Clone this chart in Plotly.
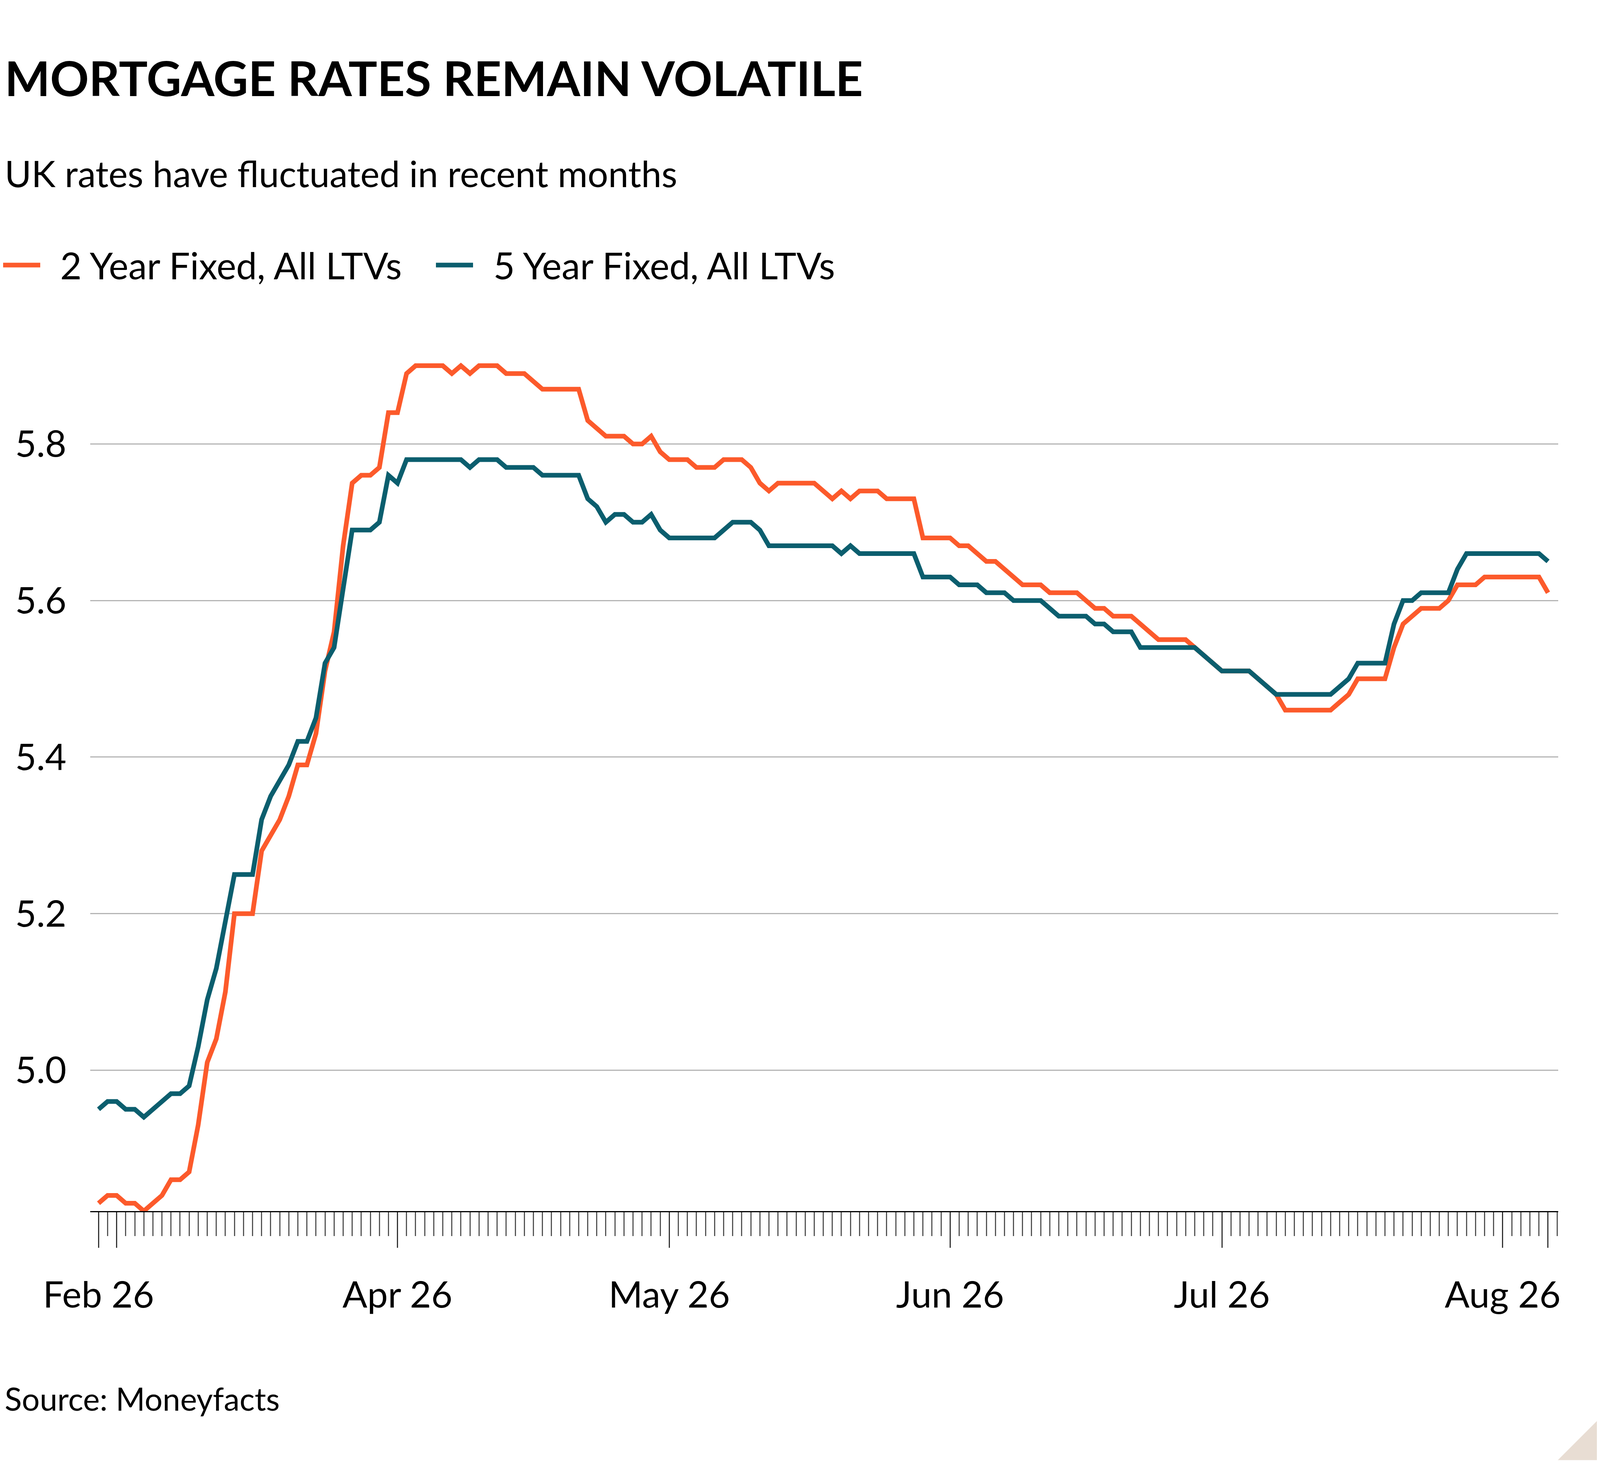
import pandas as pd
import plotly.graph_objects as go

# daily rates, 27 Feb 2026 - 6 Aug 2026
dates = pd.date_range("2026-02-27", "2026-08-06", freq="D")

two_year = [
    4.83, 4.84, 4.84, 4.83, 4.83, 4.82, 4.83, 4.84, 4.86, 4.86,
    4.87, 4.93, 5.01, 5.04, 5.10, 5.20, 5.20, 5.20, 5.28, 5.30,
    5.32, 5.35, 5.39, 5.39, 5.43, 5.51, 5.56, 5.67, 5.75, 5.76,
    5.76, 5.77, 5.84, 5.84, 5.89, 5.90, 5.90, 5.90, 5.90, 5.89,
    5.90, 5.89, 5.90, 5.90, 5.90, 5.89, 5.89, 5.89, 5.88, 5.87,
    5.87, 5.87, 5.87, 5.87, 5.83, 5.82, 5.81, 5.81, 5.81, 5.80,
    5.80, 5.81, 5.79, 5.78, 5.78, 5.78, 5.77, 5.77, 5.77, 5.78,
    5.78, 5.78, 5.77, 5.75, 5.74, 5.75, 5.75, 5.75, 5.75, 5.75,
    5.74, 5.73, 5.74, 5.73, 5.74, 5.74, 5.74, 5.73, 5.73, 5.73,
    5.73, 5.68, 5.68, 5.68, 5.68, 5.67, 5.67, 5.66, 5.65, 5.65,
    5.64, 5.63, 5.62, 5.62, 5.62, 5.61, 5.61, 5.61, 5.61, 5.60,
    5.59, 5.59, 5.58, 5.58, 5.58, 5.57, 5.56, 5.55, 5.55, 5.55,
    5.55, 5.54, 5.53, 5.52, 5.51, 5.51, 5.51, 5.51, 5.50, 5.49,
    5.48, 5.46, 5.46, 5.46, 5.46, 5.46, 5.46, 5.47, 5.48, 5.50,
    5.50, 5.50, 5.50, 5.54, 5.57, 5.58, 5.59, 5.59, 5.59, 5.60,
    5.62, 5.62, 5.62, 5.63, 5.63, 5.63, 5.63, 5.63, 5.63, 5.63,
    5.61,
]

five_year = [
    4.95, 4.96, 4.96, 4.95, 4.95, 4.94, 4.95, 4.96, 4.97, 4.97,
    4.98, 5.03, 5.09, 5.13, 5.19, 5.25, 5.25, 5.25, 5.32, 5.35,
    5.37, 5.39, 5.42, 5.42, 5.45, 5.52, 5.54, 5.62, 5.69, 5.69,
    5.69, 5.70, 5.76, 5.75, 5.78, 5.78, 5.78, 5.78, 5.78, 5.78,
    5.78, 5.77, 5.78, 5.78, 5.78, 5.77, 5.77, 5.77, 5.77, 5.76,
    5.76, 5.76, 5.76, 5.76, 5.73, 5.72, 5.70, 5.71, 5.71, 5.70,
    5.70, 5.71, 5.69, 5.68, 5.68, 5.68, 5.68, 5.68, 5.68, 5.69,
    5.70, 5.70, 5.70, 5.69, 5.67, 5.67, 5.67, 5.67, 5.67, 5.67,
    5.67, 5.67, 5.66, 5.67, 5.66, 5.66, 5.66, 5.66, 5.66, 5.66,
    5.66, 5.63, 5.63, 5.63, 5.63, 5.62, 5.62, 5.62, 5.61, 5.61,
    5.61, 5.60, 5.60, 5.60, 5.60, 5.59, 5.58, 5.58, 5.58, 5.58,
    5.57, 5.57, 5.56, 5.56, 5.56, 5.54, 5.54, 5.54, 5.54, 5.54,
    5.54, 5.54, 5.53, 5.52, 5.51, 5.51, 5.51, 5.51, 5.50, 5.49,
    5.48, 5.48, 5.48, 5.48, 5.48, 5.48, 5.48, 5.49, 5.50, 5.52,
    5.52, 5.52, 5.52, 5.57, 5.60, 5.60, 5.61, 5.61, 5.61, 5.61,
    5.64, 5.66, 5.66, 5.66, 5.66, 5.66, 5.66, 5.66, 5.66, 5.66,
    5.65,
]

series_names = ["2 Year Fixed, All LTVs", "5 Year Fixed, All LTVs"]
series_colors = ["#fc5a2b", "#0b5e6e"]

y_ticks = [5.0, 5.2, 5.4, 5.6, 5.8]
x_ticks = ["2026-02-27", "2026-03-01", "2026-04-01", "2026-05-01",
           "2026-06-01", "2026-07-01", "2026-08-01", "2026-08-06"]
x_labels = ["Feb 26", "", "Apr 26", "May 26", "Jun 26", "Jul 26", "Aug 26", ""]

# figure fills the browser window; height is fixed at 3750
H = 3750
L, RM, T, B = 223, 99, 868, 3108
FONT = "Lato"


def py(y):
    # page pixel row -> paper fraction
    return (B - y) / (B - T)


fig = go.Figure()
for vals, name, col in zip([two_year, five_year], series_names, series_colors):
    fig.add_trace(go.Scatter(x=dates, y=vals, name=name, mode="lines",
                             line=dict(color=col, width=12), showlegend=False))

fig.update_layout(
    autosize=True,
    margin=dict(l=L, r=RM, t=T, b=H - B),
    paper_bgcolor="white", plot_bgcolor="white",
    font=dict(family=FONT, color="black", size=94),
)
fig.update_xaxes(
    type="date", range=["2026-02-26 02:00", "2026-08-07 03:00"],
    tickvals=x_ticks, ticktext=x_labels,
    ticks="outside", ticklen=91, tickwidth=3, tickcolor="#333",
    minor=dict(dtick=86400000, ticks="outside", ticklen=61, tickwidth=3,
               tickcolor="#555", tick0="2026-02-27"),
    showline=True, linecolor="black", linewidth=3,
    showgrid=False, tickfont=dict(size=94), ticklabelstandoff=40,
)
fig.update_yaxes(
    range=[4.82, 5.93], tickvals=y_ticks,
    ticktext=[f"{v:.1f}" for v in y_ticks],
    showgrid=True, gridcolor="#b5b5b5", gridwidth=3,
    zeroline=False, ticks="", ticklabelstandoff=60,
    tickfont=dict(size=94),
)

ann = [
    dict(text="<b>MORTGAGE RATES REMAIN VOLATILE</b>", x=2, y=186, size=123),
    dict(text="UK rates have fluctuated in recent months", x=2, y=432, size=93),
    dict(text=series_names[0], x=144, y=669, size=95),
    dict(text=series_names[1], x=1253, y=669, size=95),
    dict(text="Source: Moneyfacts", x=2, y=3591, size=81),
]
for a in ann:
    fig.add_annotation(text=a["text"], x=0, xshift=a["x"] - L, y=py(a["y"]),
                       xref="paper", yref="paper", xanchor="left",
                       yanchor="middle", showarrow=False,
                       font=dict(size=a["size"], family=FONT, color="black"))

for x0, col in [(0, series_colors[0]), (1108, series_colors[1])]:
    fig.add_shape(type="line", xref="paper", yref="paper",
                  xsizemode="pixel", xanchor=0,
                  x0=x0 - L, x1=x0 + 95 - L, y0=py(669), y1=py(669),
                  line=dict(color=col, width=12))

fig.add_shape(type="path", xref="paper", yref="paper",
              xsizemode="pixel", xanchor=1, ysizemode="pixel", yanchor=py(H),
              path=f"M {RM - 100} 0 L {RM} 100 L {RM} 0 Z",
              fillcolor="#e8ddd3", line=dict(width=0))

fig.write_html("out.html")
